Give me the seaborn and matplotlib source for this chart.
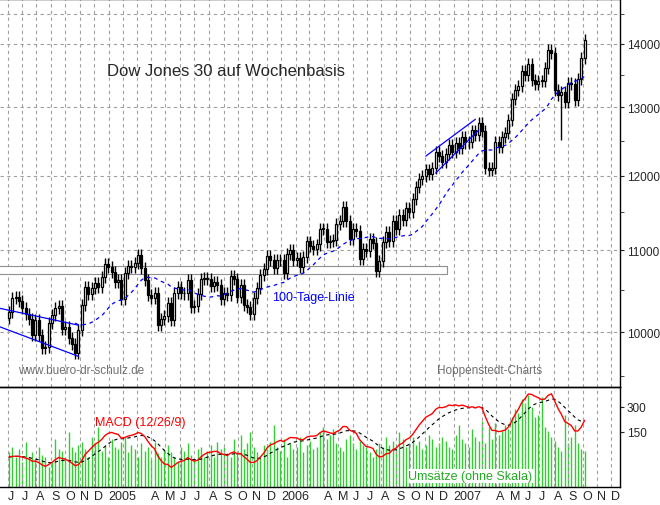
import numpy as np, pandas as pd, matplotlib
matplotlib.use("Agg")
import matplotlib.pyplot as plt
import seaborn as sns
from matplotlib.ticker import FixedLocator, NullFormatter

closes = [10242,10410,10416,10371, 10282,10213,10149,9962,10139, 9963,9815,9825,10110,
 10196,10290,10313,10038, 10055,9933,9858,9758,10028, 10315,10539,10456,10522,
 10592,10543,10661,10827,10783,
 10729,10603,10628,10393, 10716,10796,10785,10841, 10940,10774,10626,10442,
 10404,10461,10087,10157,10192, 10346,10140,10471,10542, 10467,10460,10623,10297,
 10303,10449,10640,10651,10640, 10558,10600,10559,10397, 10463,10447,10678,10641,10419,
 10568,10317,10292,10215, 10403,10531,10686,10766, 10931,10877,10778,10875,10883,
 10718,10959,11002,10880, 10907,10793,10919,11115, 11061,11022,11076,11280,11279,
 11109,11120,11137,11347, 11382,11577,11380,11144, 11278,11247,10891,11015,10989,
 11150,11090,10739,10869, 11104,11240,11124,11381, 11284,11464,11393,11560,11508,
 11679,11850,11960,12002, 12090,12031,12108,12342, 12280,12194,12307,12445,12343,
 12463,12398,12556,12477, 12487,12653,12580,12768, 12647,12114,12076,12110,12481,
 12417,12560,12612,12808, 13120,13265,13327,13556, 13507,13668,13424,13361,13409,
 13409,13611,13907,13851, 13265,13182,13239,13079,13378, 13358,13113,13442,13766,
 14066]
volumes = [35,40,30,38,25, 45,30,35,28,40, 32,30,20,25,48, 38,36,30,55,40, 35,42,45,38,30,
 50,44,60,36,42, 30,48,40,38,45, 50,35,42,38,30, 44,36,40,28,45, 34,30,38,42,35,
 30,25,40,36,44, 32,28,38,40,30, 36,42,30,45,38, 40,34,30,48,36, 52,38,44,55,40,
 35,30,42,38,45, 62,40,36,48,30, 44,38,40,50,35, 42,46,38,40,55, 60,48,52,58,44,
 40,36,48,52,44, 38,46,42,40,35, 30,38,44,40,50, 42,46,38,55,48, 40,44,50,42,46,
 38,42,52,48,40, 44,50,46,40,38, 52,62,48,44,40, 58,50,46,66,44, 60,48,64,52,56,
 62,58,70,78,74, 88,84,92,80,70, 72,90,60,56,50, 46,40,36,72,44, 50,62,44,38,36]
channel_a_dates = ["2004-05-16","2004-10-29"]; channel_a_hi = [10280,10080]; channel_a_lo = [10060,9720]
channel_b_dates_hi = ["2006-11-03","2007-02-16"]; channel_b_hi = [12280,12820]
channel_b_dates_lo = ["2006-11-24","2007-02-23"]; channel_b_lo = [12040,12660]
band = [10700, 10800]

dates = pd.date_range("2004-06-04", periods=len(closes), freq="W-FRI")
df = pd.DataFrame({"date": dates, "close": closes, "vol": volumes[:len(closes)]})
df["open"] = df["close"].shift(1).fillna(10160)
df["high"] = df[["open","close"]].max(axis=1)*1.007
df["low"] = df[["open","close"]].min(axis=1)*0.993
df.loc[(df["date"]>="2007-08-13")&(df["date"]<="2007-08-19"), "low"] = 12518
df["ma"] = df["close"].rolling(20).mean()
ema12 = df["close"].ewm(span=12).mean(); ema26 = df["close"].ewm(span=26).mean()
df["macd"] = ema12 - ema26
df["sig"] = df["macd"].ewm(span=9).mean()

sns.set_style("white")
plt.rcParams["font.family"] = ["Liberation Sans", "DejaVu Sans"]
fig = plt.figure(figsize=(6.6, 5.06), dpi=100)
ax = fig.add_axes([0, 1-388/506, 620/660, 388/506])
bx = fig.add_axes([0, 1-488/506, 620/660, 100/506], sharex=ax)

months = pd.date_range("2004-06-01", "2007-12-01", freq="MS")
for a in (ax, bx):
    for m in months:
        a.axvline(m, color="#a0a0a0", ls=(0,(3,3)), lw=0.8, zorder=0)
    for s in a.spines.values():
        s.set_color("black"); s.set_linewidth(1)
    a.spines["left"].set_visible(False)

ax.set_yscale("log")
ax.set_ylim(9378, 14753)
ax.yaxis.tick_right()
ax.yaxis.set_major_locator(FixedLocator([10000,11000,12000,13000,14000]))
ax.set_yticklabels(["10000","11000","12000","13000","14000"], fontsize=8.5)
ax.yaxis.set_minor_locator(FixedLocator([9500,10500,11500,12500,13500,14500]))
ax.yaxis.set_minor_formatter(NullFormatter())
ax.tick_params(axis="y", which="both", direction="out", length=3, pad=2, right=True)
for v in [10000,11000,12000,13000,14000,14500]:
    ax.axhline(v, color="#a0a0a0", ls=(0,(3,3)), lw=0.8, zorder=0)
ax.set_xlim(pd.Timestamp("2004-05-16"), pd.Timestamp("2007-12-19"))
ax.tick_params(axis="x", bottom=False, labelbottom=False)

ax.fill_between([pd.Timestamp("2004-05-01"), pd.Timestamp("2006-12-18")], band[0], band[1],
                facecolor="white", edgecolor="#909090", lw=0.8, zorder=1)
ax.vlines(df["date"], df["low"], df["high"], color="black", lw=1, zorder=3)
up = df["close"] >= df["open"]
for sel, fc in ((up, "white"), (~up, "black")):
    d = df[sel]
    ax.bar(d["date"], (d["close"]-d["open"]).abs().clip(lower=8), bottom=d[["open","close"]].min(axis=1),
           width=4.2, color=fc, edgecolor="black", lw=0.9, zorder=4)
sns.lineplot(x=df["date"].iloc[20:], y=df["ma"].iloc[20:], ax=ax, color="blue", lw=0.9,
             linestyle=(0,(3,3)), zorder=5)
ca = pd.to_datetime(channel_a_dates)
ax.plot(ca, channel_a_hi, color="blue", lw=0.9, zorder=5)
ax.plot(ca, channel_a_lo, color="blue", lw=0.9, zorder=5)
ax.plot(pd.to_datetime(channel_b_dates_hi), channel_b_hi, color="blue", lw=0.9, zorder=5)
ax.plot(pd.to_datetime(channel_b_dates_lo), channel_b_lo, color="blue", lw=0.9, zorder=5)
ax.set_xlabel(""); ax.set_ylabel("")
ax.text(107/620, 1-72/388, "Dow Jones 30 auf Wochenbasis", transform=ax.transAxes, fontsize=12, va="center")
ax.text(272/620, 1-298/388, "100-Tage-Linie", transform=ax.transAxes, fontsize=9, color="blue", va="center")
ax.text(18/620, 1-371/388, "www.buero-dr-schulz.de", transform=ax.transAxes, fontsize=8.5, color="#707070", va="center")
ax.text(437/620, 1-371/388, "Hoppenstedt-Charts", transform=ax.transAxes, fontsize=8.5, color="#707070", va="center")

vx = bx.twinx()
vx.vlines(df["date"], 0, df["vol"], color="#33cc33", lw=1.0, zorder=1)
vx.set_ylim(0, 100); vx.axis("off")
sns.lineplot(x=df["date"], y=df["sig"], ax=bx, color="black", lw=0.8, linestyle=(0,(3,3)), zorder=5)
sns.lineplot(x=df["date"], y=df["macd"], ax=bx, color="red", lw=1, zorder=6)
bx.set_zorder(vx.get_zorder()+1); bx.patch.set_visible(False)
bx.set_ylim(-180, 420)
bx.yaxis.tick_right()
bx.set_yticks([150, 300]); bx.set_yticklabels(["150","300"], fontsize=8.5)
bx.tick_params(axis="y", direction="out", length=3, pad=2, right=True)
bx.set_xlabel(""); bx.set_ylabel("")
bx.text(95/620, 1-(423-388)/100, "MACD (12/26/9)", transform=bx.transAxes, fontsize=9, color="red", va="center")
bx.text(408/620, 1-(477-388)/100, "Umsätze (ohne Skala)", transform=bx.transAxes, fontsize=9,
        color="#22aa22", va="center", bbox=dict(facecolor="white", edgecolor="none", pad=1))

labels = []
for m in months:
    if m.month == 1:
        labels.append(str(m.year))
    elif m.month in (2, 3):
        labels.append("")
    else:
        labels.append("JFMAMJJASOND"[m.month-1])
bx.set_xticks(months)
bx.set_xticklabels(labels, fontsize=9, ha="left")
bx.tick_params(axis="x", length=0, pad=2)
bx.set_xlim(pd.Timestamp("2004-05-16"), pd.Timestamp("2007-12-19"))
fig.savefig("out.png", dpi=100)
